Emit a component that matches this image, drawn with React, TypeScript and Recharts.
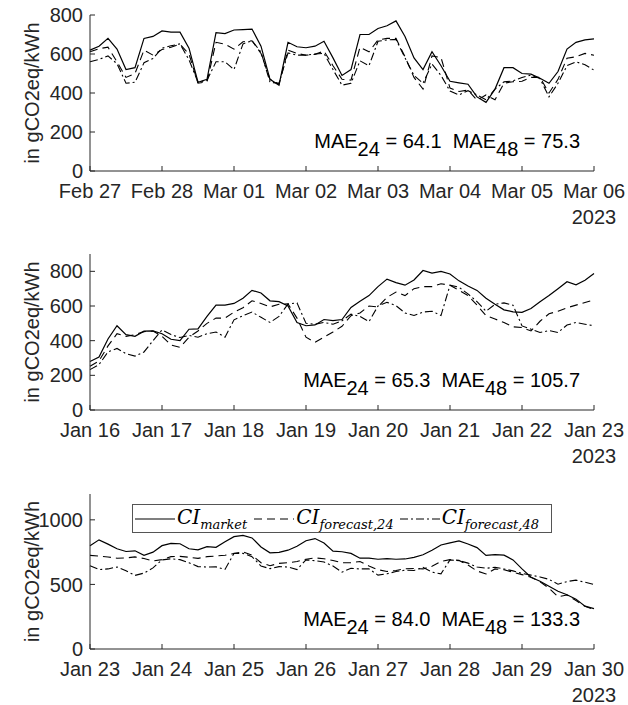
import React from 'react'
import { LineChart, Line, XAxis, YAxis, Legend } from 'recharts'

const FONT = '"Liberation Sans", Arial, sans-serif'
const MATH = '"DejaVu Serif", serif'
const INK = '#262626'

// x runs in 3-hour steps, one tick per day
const dayTicks = [0, 8, 16, 24, 32, 40, 48, 56]
const yearLabel = '2023'

// --- panel 1: Feb 27 - Mar 06 ---
const marDays = ['Feb 27', 'Feb 28', 'Mar 01', 'Mar 02', 'Mar 03', 'Mar 04', 'Mar 05', 'Mar 06']
const marMarket = [
  620, 640, 680, 625, 520, 530, 680, 690,
  718, 712, 712, 630, 455, 470, 710, 705,
  723, 725, 728, 640, 470, 440, 660, 637,
  632, 640, 665, 580, 490, 520, 700, 700,
  731, 745, 770, 690, 580, 520, 612, 540,
  460, 452, 445, 380, 352, 420, 530, 530,
  500, 497, 476, 450, 510, 625, 660, 672,
  678,
]
const marFc24 = [
  611, 627, 635, 560, 480, 500, 620, 594,
  623, 635, 650, 600, 450, 457, 660, 650,
  625, 663, 668, 603, 470, 445, 620, 603,
  594, 598, 615, 540, 470, 466, 635, 611,
  672, 680, 680, 586, 480, 420, 590, 582,
  425, 408, 415, 363, 390, 365, 450, 458,
  460, 480, 480, 400, 470, 578, 586, 603,
  594,
]
const marFc48 = [
  560, 572, 590, 550, 450, 455, 555, 577,
  630, 642, 652, 570, 455, 465, 560, 560,
  520, 652, 668, 610, 455, 450, 605, 594,
  594, 600, 603, 520, 440, 450, 565, 540,
  665, 672, 675, 580, 490, 450, 548, 490,
  410, 390, 412, 390, 365, 420, 457, 462,
  480, 492, 474, 380, 450, 540, 560, 545,
  517,
]

// --- panel 2: Jan 16 - Jan 23 ---
const jan16Days = ['Jan 16', 'Jan 17', 'Jan 18', 'Jan 19', 'Jan 20', 'Jan 21', 'Jan 22', 'Jan 23']
const jan16Market = [
  280, 305, 410, 486, 435, 425, 455, 456,
  440, 408, 400, 466, 468, 540, 605, 605,
  615, 645, 690, 675, 630, 625, 600, 505,
  486, 491, 522, 516, 522, 592, 628, 660,
  712, 755, 735, 720, 750, 805, 790, 800,
  785, 745, 715, 690, 645, 610, 578, 566,
  563, 585, 625, 660, 700, 740, 722, 748,
  787,
]
const jan16Fc24 = [
  252, 283, 370, 440, 425, 435, 452, 455,
  425, 375, 362, 420, 456, 500, 530, 530,
  565, 590, 630, 615, 595, 610, 612, 530,
  420, 390, 420, 450, 483, 544, 560, 600,
  595, 650, 680, 660, 700, 712, 712, 728,
  720, 690, 660, 605, 545, 525, 505, 480,
  476, 456, 512, 555, 570, 590, 605, 620,
  635,
]
const jan16Fc48 = [
  233, 262, 335, 355, 325, 311, 335, 400,
  462, 435, 418, 430, 420, 440, 450, 420,
  520, 544, 565, 535, 505, 540, 612, 618,
  500, 495, 505, 495, 515, 553, 540, 510,
  600, 621, 602, 560, 545, 565, 570, 545,
  720, 708, 670, 625, 570, 610, 618, 605,
  485, 466, 447, 458, 447, 490, 505, 495,
  486,
]

// --- panel 3: Jan 23 - Jan 30 ---
const jan23Days = ['Jan 23', 'Jan 24', 'Jan 25', 'Jan 26', 'Jan 27', 'Jan 28', 'Jan 29', 'Jan 30']
const jan23Market = [
  800, 845, 812, 776, 755, 760, 725, 750,
  800, 818, 815, 776, 768, 793, 787, 830,
  870, 880, 860, 790, 745, 748, 765, 795,
  838, 855, 820, 757, 753, 740, 703, 703,
  695, 700, 695, 697, 710, 730, 765, 805,
  822, 837, 813, 785, 725, 730, 727, 690,
  620, 555, 525, 485, 447, 420, 386, 332,
  313,
]
const jan23Fc24 = [
  725, 720, 712, 703, 705, 713, 700, 682,
  692, 715, 717, 710, 702, 715, 720, 726,
  740, 752, 727, 668, 645, 663, 668, 677,
  695, 705, 699, 685, 668, 668, 677, 642,
  614, 600, 608, 621, 623, 620, 640, 677,
  692, 686, 650, 604, 581, 620, 613, 595,
  576, 556, 520, 470, 405, 418, 375, 330,
  306,
]
const jan23Fc48 = [
  645, 615, 620, 635, 605, 570, 588, 628,
  690, 698, 692, 668, 638, 635, 636, 616,
  740, 740, 715, 642, 622, 638, 635, 615,
  690, 684, 673, 642, 595, 625, 620, 620,
  572, 582, 600, 610, 608, 632, 595, 582,
  690, 684, 665, 635, 625, 633, 620, 605,
  585, 572, 558, 539, 502, 522, 533, 517,
  500,
]

const DayTick = ({ x, y, payload, days }: any) => {
  const i = Math.round(payload.value / 8)
  return (
    <g>
      <text x={x} y={y + 27} textAnchor="middle" fontSize={20} fontFamily={FONT} fill={INK}>
        {days[i]}
      </text>
      {i === days.length - 1 && (
        <text x={x} y={y + 53} textAnchor="middle" fontSize={20} fontFamily={FONT} fill={INK}>
          {yearLabel}
        </text>
      )}
    </g>
  )
}

const LegendBox = () => {
  const item = (dash: string | undefined, sub: string, gap: number) => (
    <div style={{ display: 'flex', alignItems: 'center', marginLeft: gap }}>
      <svg width={40} height={10}>
        <line x1={0} y1={5} x2={40} y2={5} stroke="#000" strokeWidth={1.1} strokeDasharray={dash} />
      </svg>
      <span style={{ marginLeft: 2, fontFamily: MATH, fontStyle: 'italic', fontSize: 20, color: '#000', whiteSpace: 'nowrap' }}>
        CI<span style={{ fontSize: 13, position: 'relative', top: 5 }}>{sub}</span>
      </span>
    </div>
  )
  return (
    <div style={{ boxSizing: 'border-box', width: 420, height: 29, border: '1px solid #555', background: '#fff', display: 'flex', alignItems: 'center', paddingLeft: 2, lineHeight: '20px' }}>
      {item(undefined, 'market', 0)}
      {item('8 5', 'forecast,24', 7)}
      {item('8 3 2 3', 'forecast,48', 6)}
    </div>
  )
}

interface PanelProps {
  top: number
  plotH: number
  days: string[]
  market: number[]
  fc24: number[]
  fc48: number[]
  yMax: number
  yTicks: number[]
  mae24: string
  mae48: string
  legend?: boolean
}

function Panel({ top, plotH, days, market, fc24, fc48, yMax, yTicks, mae24, mae48, legend }: PanelProps) {
  const data = market.map((v, i) => ({ t: i, market: v, fc24: fc24[i], fc48: fc48[i] }))
  const height = 10 + plotH + 56
  const plotBottom = 10 + plotH

  const yLabel = (props: any) => {
    const vb = props && props.viewBox
    const cy = vb && vb.height ? vb.y + vb.height / 2 : 10 + plotH / 2
    return (
      <text transform={`translate(32, ${cy}) rotate(-90)`} textAnchor="middle" dominantBaseline="central" fontSize={20} fontFamily={FONT} fill={INK}>
        in gCO2eq/kWh
      </text>
    )
  }

  return (
    <div style={{ position: 'absolute', left: 0, top: top - 10, width: 628, height }}>
      <LineChart width={628} height={height} data={data} margin={{ top: 10, right: 34, bottom: 0, left: 0 }}>
        <XAxis
          dataKey="t"
          type="number"
          domain={[0, 56]}
          ticks={dayTicks}
          interval={0}
          height={56}
          stroke={INK}
          tickSize={-5}
          tickMargin={5}
          tick={<DayTick days={days} />}
        />
        <XAxis xAxisId="top" orientation="top" type="number" domain={[0, 56]} ticks={dayTicks} interval={0} height={0} stroke={INK} tickSize={-5} tick={false} allowDataOverflow />
        <YAxis
          type="number"
          domain={[0, yMax]}
          ticks={yTicks}
          interval={0}
          width={90}
          stroke={INK}
          tickSize={-5}
          tickMargin={12}
          tick={{ fill: INK, fontSize: 20, fontFamily: FONT }}
          label={yLabel}
        />
        <YAxis yAxisId="right" orientation="right" type="number" domain={[0, yMax]} ticks={yTicks} interval={0} width={0} stroke={INK} tickSize={-5} tick={false} allowDataOverflow />
        {legend && (
          <Legend
            layout="horizontal"
            verticalAlign="middle"
            align="center"
            content={<LegendBox />}
            wrapperStyle={{ left: 132, top: 20, width: 420, height: 29 }}
          />
        )}
        <Line type="linear" dataKey="market" stroke="#000" strokeWidth={1.2} dot={false} isAnimationActive={false} />
        <Line type="linear" dataKey="fc24" stroke="#000" strokeWidth={1.1} strokeDasharray="8 5" dot={false} isAnimationActive={false} />
        <Line type="linear" dataKey="fc48" stroke="#000" strokeWidth={1.1} strokeDasharray="8 3 2 3" dot={false} isAnimationActive={false} />
      </LineChart>
      <svg width={628} height={height} style={{ position: 'absolute', left: 0, top: 0, pointerEvents: 'none' }}>
        <text x={580} y={plotBottom - 23} textAnchor="end" fontSize={20} fontFamily={FONT} fill="#000">
          MAE<tspan dy={8}>24</tspan>
          <tspan dy={-8}>{` = ${mae24}\u00a0\u00a0MAE`}</tspan>
          <tspan dy={8}>48</tspan>
          <tspan dy={-8}>{` = ${mae48}`}</tspan>
        </text>
      </svg>
    </div>
  )
}

export default function App() {
  return (
    <div style={{ position: 'absolute', left: 0, top: 0, width: 628, height: 705, background: '#fff' }}>
      <Panel top={15} plotH={156} days={marDays} market={marMarket} fc24={marFc24} fc48={marFc48}
        yMax={800} yTicks={[0, 200, 400, 600, 800]} mae24="64.1" mae48="75.3" />
      <Panel top={254} plotH={156} days={jan16Days} market={jan16Market} fc24={jan16Fc24} fc48={jan16Fc48}
        yMax={900} yTicks={[0, 200, 400, 600, 800]} mae24="65.3" mae48="105.7" />
      <Panel top={494} plotH={155} days={jan23Days} market={jan23Market} fc24={jan23Fc24} fc48={jan23Fc48}
        yMax={1200} yTicks={[0, 500, 1000]} mae24="84.0" mae48="133.3" legend />
    </div>
  )
}
